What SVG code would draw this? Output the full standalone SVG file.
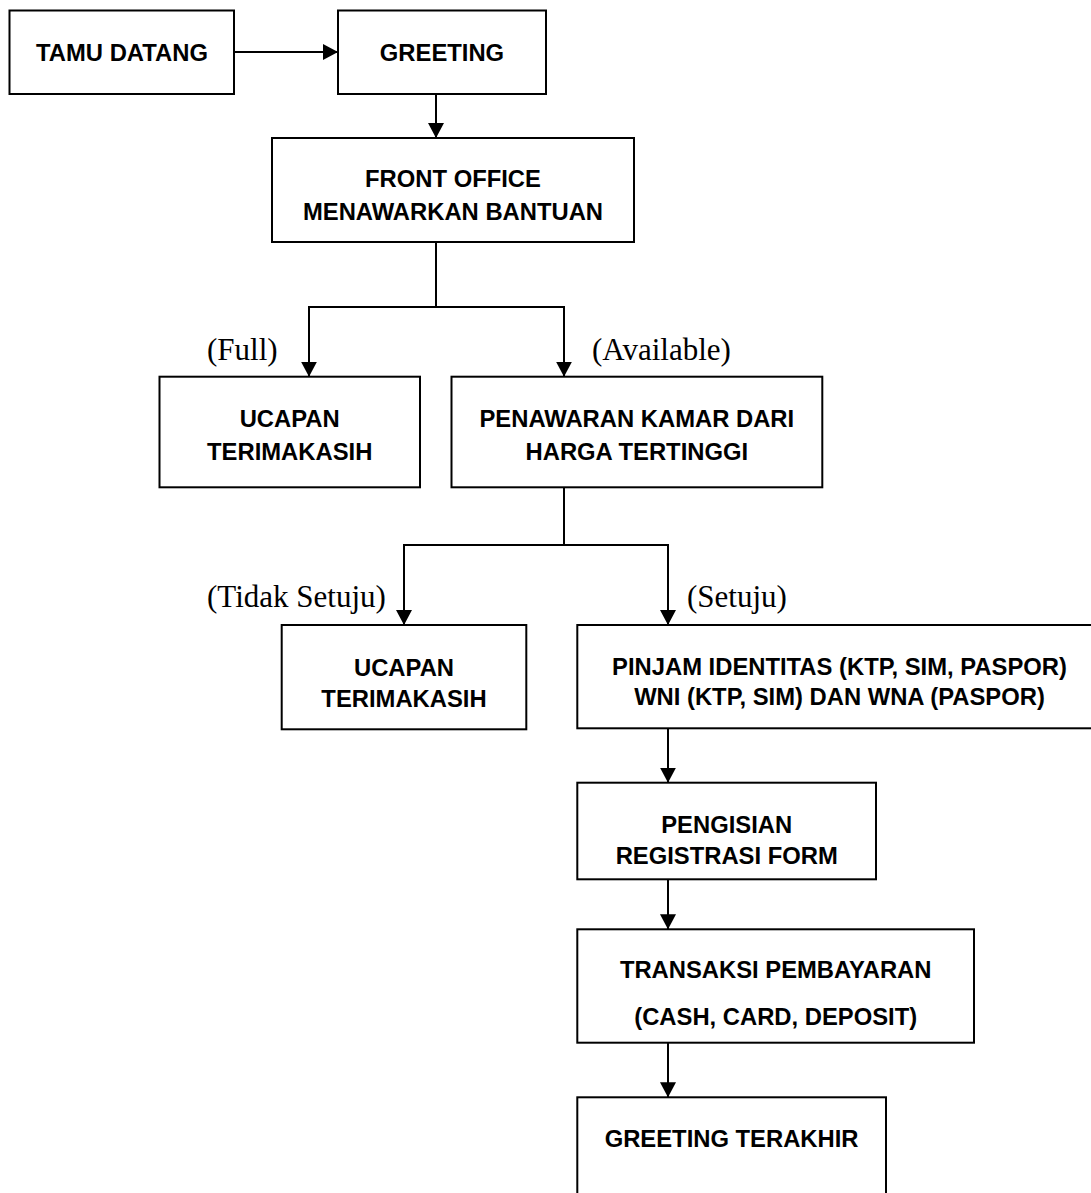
<svg xmlns="http://www.w3.org/2000/svg" width="1091" height="1193" viewBox="0 0 1091 1193">
<style>
.box{fill:none;stroke:#000;stroke-width:2}
.t{font-family:"Liberation Sans",Arial,sans-serif;font-weight:bold;font-size:23.8px;fill:#000;text-anchor:middle}
.lbl{font-family:"Liberation Serif","Times New Roman",serif;font-size:31px;fill:#000}
.c{fill:none;stroke:#000;stroke-width:2}
</style>
<defs>
<marker id="ah" viewBox="0 0 15 16" refX="15" refY="8" markerWidth="15" markerHeight="16" markerUnits="userSpaceOnUse" orient="auto">
<path d="M0,0 L15,8 L0,16 z" fill="#000"/>
</marker>
</defs>
<rect width="1091" height="1193" fill="#fff"/>
<g id="connectors">
<path class="c" d="M234,52 H338" marker-end="url(#ah)"/>
<path class="c" d="M436,94 V138" marker-end="url(#ah)"/>
<path class="c" d="M436,242 V307 H309 V376.7" marker-end="url(#ah)"/>
<path class="c" d="M436,307 H564 V376.7" marker-end="url(#ah)"/>
<path class="c" d="M564,487.3 V545 H404 V625" marker-end="url(#ah)"/>
<path class="c" d="M564,545 H668 V625" marker-end="url(#ah)"/>
<path class="c" d="M668,728.3 V782.7" marker-end="url(#ah)"/>
<path class="c" d="M668,879.3 V929.3" marker-end="url(#ah)"/>
<path class="c" d="M668,1042.7 V1097.3" marker-end="url(#ah)"/>
<text class="lbl" x="207" y="360">(Full)</text>
<text class="lbl" x="592" y="360">(Available)</text>
<text class="lbl" x="207" y="607">(Tidak Setuju)</text>
<text class="lbl" x="687" y="607">(Setuju)</text>
</g>
<g id="tamu"><rect class="box" x="9.5" y="10.5" width="224.5" height="83.5"/><text class="t" x="122" y="60.5">TAMU DATANG</text></g>
<g id="greeting"><rect class="box" x="338" y="10.5" width="208" height="83.5"/><text class="t" x="442" y="60.5">GREETING</text></g>
<g id="frontoffice"><rect class="box" x="272" y="138" width="362" height="104"/><text class="t" x="453" y="187">FRONT OFFICE</text><text class="t" x="453" y="220">MENAWARKAN BANTUAN</text></g>
<g id="ucapan1"><rect class="box" x="159.5" y="376.7" width="260.5" height="110.6"/><text class="t" x="289.7" y="426.7">UCAPAN</text><text class="t" x="289.7" y="460">TERIMAKASIH</text></g>
<g id="penawaran"><rect class="box" x="451.5" y="376.7" width="370.8" height="110.6"/><text class="t" x="636.8" y="426.7">PENAWARAN KAMAR DARI</text><text class="t" x="636.8" y="460">HARGA TERTINGGI</text></g>
<g id="ucapan2"><rect class="box" x="281.7" y="625" width="244.6" height="104.3"/><text class="t" x="404" y="676">UCAPAN</text><text class="t" x="404" y="707">TERIMAKASIH</text></g>
<g id="pinjam"><rect class="box" x="577.3" y="625" width="525" height="103.3"/><text class="t" x="839.5" y="675">PINJAM IDENTITAS (KTP, SIM, PASPOR)</text><text class="t" x="839.5" y="705">WNI (KTP, SIM) DAN WNA (PASPOR)</text></g>
<g id="pengisian"><rect class="box" x="577.3" y="782.7" width="298.7" height="96.6"/><text class="t" x="726.7" y="832.7">PENGISIAN</text><text class="t" x="726.7" y="864.3">REGISTRASI FORM</text></g>
<g id="transaksi"><rect class="box" x="577.3" y="929.3" width="396.7" height="113.4"/><text class="t" x="775.7" y="978.3">TRANSAKSI PEMBAYARAN</text><text class="t" x="775.7" y="1025">(CASH, CARD, DEPOSIT)</text></g>
<g id="greetingterakhir"><rect class="box" x="577.3" y="1097.3" width="308.7" height="130"/><text class="t" x="731.6" y="1146.7">GREETING TERAKHIR</text></g>
</svg>
